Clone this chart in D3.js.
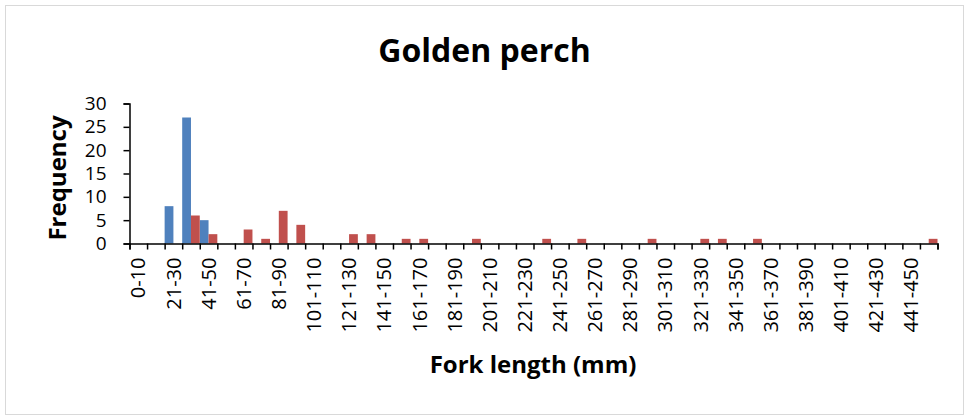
<!DOCTYPE html>
<html>
<head>
<meta charset="utf-8">
<script src="https://cdn.jsdelivr.net/npm/d3@7"></script>
<style>
  body { margin: 0; background: #fff; }
  text { font-family: "Open Sans", sans-serif; fill: #000; }
</style>
</head>
<body>
<svg id="chart" width="969" height="417"></svg>
<script>
// Length classes (10 mm bins)
const classes = d3.range(46).map(i => i === 0 ? "0-10" : `${i * 10 + 1}-${i * 10 + 10}`);

// Frequencies
const blueSeries = [0, 0, 8, 27, 5, 0, 0, 0, 0, 0,
                    0, 0, 0, 0, 0, 0, 0, 0, 0, 0,
                    0, 0, 0, 0, 0, 0, 0, 0, 0, 0,
                    0, 0, 0, 0, 0, 0, 0, 0, 0, 0,
                    0, 0, 0, 0, 0, 0];
const redSeries = [0, 0, 0, 6, 2, 0, 3, 1, 7, 4,
                   0, 0, 2, 2, 0, 1, 1, 0, 0, 1,
                   0, 0, 0, 1, 0, 1, 0, 0, 0, 1,
                   0, 0, 1, 1, 0, 1, 0, 0, 0, 0,
                   0, 0, 0, 0, 0, 1];
const yTicks = [0, 5, 10, 15, 20, 25, 30];

const svg = d3.select("#chart");

// Chart border
svg.append("rect")
    .attr("x", 5.5).attr("y", 5.5)
    .attr("width", 958).attr("height", 409)
    .attr("fill", "#fff")
    .attr("stroke", "#d9d9d9")
    .attr("stroke-width", 1);

const plotLeft = 129.5, plotRight = 937.5, plotTop = 103.5, plotBottom = 243.5;

const x = d3.scaleBand().domain(classes).range([plotLeft, plotRight]).padding(0);
const xEdge = d3.scaleLinear().domain([0, classes.length]).range([plotLeft, plotRight]);
const y = d3.scaleLinear().domain([0, 30]).range([plotBottom, plotTop]);
const half = x.bandwidth() / 2;

// Bars
svg.append("g").selectAll("rect")
    .data(blueSeries)
    .join("rect")
    .attr("x", (d, i) => x(classes[i]))
    .attr("y", d => y(d))
    .attr("width", half)
    .attr("height", d => y(0) - y(d))
    .attr("fill", "#4f81bd");

svg.append("g").selectAll("rect")
    .data(redSeries)
    .join("rect")
    .attr("x", (d, i) => x(classes[i]) + half)
    .attr("y", d => y(d))
    .attr("width", half)
    .attr("height", d => y(0) - y(d))
    .attr("fill", "#c0504d");

// Y axis
const yAxis = svg.append("g")
    .attr("transform", `translate(${plotLeft},0)`)
    .call(d3.axisLeft(y).tickValues(yTicks).tickSize(6).tickPadding(17));
yAxis.selectAll("text").style("font-size", "19px").attr("fill", "#000");

// X axis: tick marks on class edges
svg.append("g")
    .attr("transform", `translate(0,${plotBottom})`)
    .call(d3.axisBottom(xEdge).tickValues(d3.range(classes.length + 1)).tickFormat("").tickSize(6));

// X labels, every other class
const xLabels = svg.append("g")
    .attr("transform", `translate(0,${plotBottom})`)
    .call(d3.axisBottom(x).tickSize(0).tickFormat((d, i) => i % 2 === 0 ? d : ""));
xLabels.select(".domain").remove();
xLabels.selectAll("text")
    .style("font-size", "20px")
    .attr("fill", "#000")
    .attr("text-anchor", "end")
    .attr("transform", "rotate(-90)")
    .attr("x", -14)
    .attr("y", 0)
    .attr("dy", "0.36em");

svg.selectAll(".domain, .tick line")
    .attr("stroke", "#000")
    .attr("stroke-width", 1.5);

// Titles
svg.append("text")
    .attr("x", 484.5).attr("y", 62)
    .attr("text-anchor", "middle")
    .style("font-size", "32px")
    .style("font-weight", "bold")
    .text("Golden perch");

svg.append("text")
    .attr("x", 533).attr("y", 373)
    .attr("text-anchor", "middle")
    .style("font-size", "24px")
    .style("font-weight", "bold")
    .text("Fork length (mm)");

svg.append("text")
    .attr("transform", "translate(66,178) rotate(-90)")
    .attr("text-anchor", "middle")
    .style("font-size", "24px")
    .style("font-weight", "bold")
    .text("Frequency");
</script>
</body>
</html>
